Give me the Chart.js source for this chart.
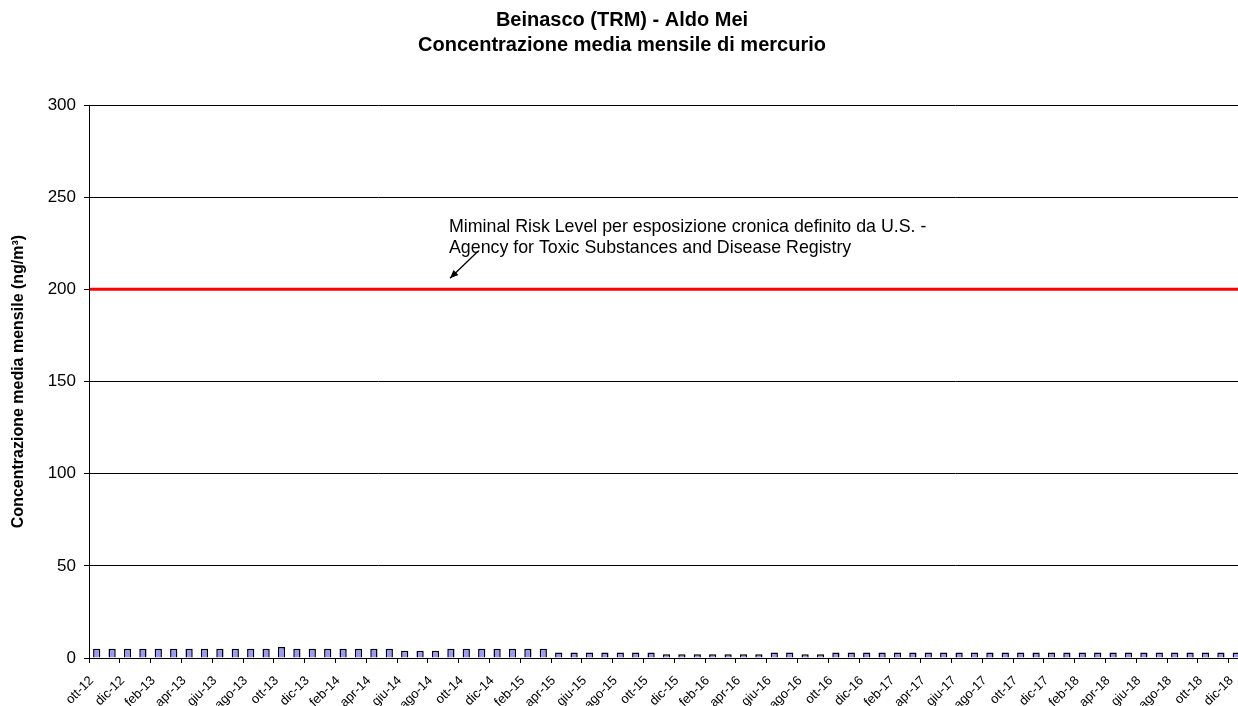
<!DOCTYPE html>
<html>
<head>
<meta charset="utf-8">
<script src="https://cdn.jsdelivr.net/npm/chart.js@4/dist/chart.umd.min.js"></script>
<style>
  html, body { margin: 0; padding: 0; background: #fff; overflow: hidden; }
  #wrap { width: 1250px; height: 706px; }
</style>
</head>
<body>
<div id="wrap"><canvas id="hgChart" width="1250" height="706"></canvas></div>
<script>
  // months ott-12 .. dic-18
  const months = [
    'ott-12', 'nov-12', 'dic-12',
    'gen-13', 'feb-13', 'mar-13', 'apr-13', 'mag-13', 'giu-13', 'lug-13', 'ago-13', 'set-13', 'ott-13', 'nov-13', 'dic-13',
    'gen-14', 'feb-14', 'mar-14', 'apr-14', 'mag-14', 'giu-14', 'lug-14', 'ago-14', 'set-14', 'ott-14', 'nov-14', 'dic-14',
    'gen-15', 'feb-15', 'mar-15', 'apr-15', 'mag-15', 'giu-15', 'lug-15', 'ago-15', 'set-15', 'ott-15', 'nov-15', 'dic-15',
    'gen-16', 'feb-16', 'mar-16', 'apr-16', 'mag-16', 'giu-16', 'lug-16', 'ago-16', 'set-16', 'ott-16', 'nov-16', 'dic-16',
    'gen-17', 'feb-17', 'mar-17', 'apr-17', 'mag-17', 'giu-17', 'lug-17', 'ago-17', 'set-17', 'ott-17', 'nov-17', 'dic-17',
    'gen-18', 'feb-18', 'mar-18', 'apr-18', 'mag-18', 'giu-18', 'lug-18', 'ago-18', 'set-18', 'ott-18', 'nov-18', 'dic-18'
  ];

  // mercurio, ng/m3
  const mercury = [
    5, 5, 5,
    5, 5, 5, 5, 5, 5, 5, 5, 5, 6, 5, 5,
    5, 5, 5, 5, 5, 4, 4, 4, 5, 5, 5, 5,
    5, 5, 5, 3, 3, 3, 3, 3, 3, 3, 2, 2,
    2, 2, 2, 2, 2, 3, 3, 2, 2, 3, 3, 3,
    3, 3, 3, 3, 3, 3, 3, 3, 3, 3, 3, 3,
    3, 3, 3, 3, 3, 3, 3, 3, 3, 3, 3, 3
  ];

  const yTicks = [0, 50, 100, 150, 200, 250, 300];
  const mrlValue = 200;
  const mrlText = [
    'Miminal Risk Level per esposizione cronica definito da U.S. -',
    'Agency for Toxic Substances and Disease Registry'
  ];

  const FONT = '"Liberation Sans", Arial, sans-serif';

  const mrlLine = {
    id: 'mrlLine',
    afterDatasetsDraw(chart) {
      const { ctx, chartArea, scales } = chart;
      const y = scales.y.getPixelForValue(mrlValue);
      ctx.save();
      ctx.strokeStyle = '#ff0000';
      ctx.lineWidth = 3;
      ctx.beginPath();
      ctx.moveTo(chartArea.left + 1, y);
      ctx.lineTo(chartArea.right, y);
      ctx.stroke();

      // label + arrow
      const tx = chartArea.left + 360;
      ctx.fillStyle = '#000';
      ctx.font = '17.8px ' + FONT;
      ctx.textBaseline = 'middle';
      ctx.fillText(mrlText[0], tx, y - 62);
      ctx.fillText(mrlText[1], tx, y - 41);

      const x0 = tx + 29, y0 = y - 38, x1 = tx + 1, y1 = y - 11;
      ctx.strokeStyle = '#000';
      ctx.lineWidth = 1.3;
      ctx.beginPath();
      ctx.moveTo(x0, y0);
      ctx.lineTo(x1, y1);
      ctx.stroke();
      const a = Math.atan2(y1 - y0, x1 - x0);
      ctx.beginPath();
      ctx.moveTo(x1, y1);
      ctx.lineTo(x1 - 9 * Math.cos(a - 0.4), y1 - 9 * Math.sin(a - 0.4));
      ctx.lineTo(x1 - 9 * Math.cos(a + 0.4), y1 - 9 * Math.sin(a + 0.4));
      ctx.closePath();
      ctx.fillStyle = '#000';
      ctx.fill();
      ctx.restore();
    }
  };

  new Chart(document.getElementById('hgChart'), {
    type: 'bar',
    data: {
      labels: months,
      datasets: [{
        data: mercury,
        backgroundColor: '#9999ff',
        borderColor: '#000000',
        borderWidth: 1.5,
        barPercentage: 0.47,
        categoryPercentage: 1
      }]
    },
    options: {
      responsive: false,
      animation: false,
      devicePixelRatio: 1,
      layout: { padding: { left: 0, right: 6, top: 0, bottom: 0 } },
      plugins: {
        legend: { display: false },
        tooltip: { enabled: false },
        title: {
          display: true,
          text: ['Beinasco (TRM) - Aldo Mei', 'Concentrazione media mensile di mercurio'],
          color: '#000',
          font: { family: FONT, size: 20, weight: 'bold', lineHeight: 1.25 },
          padding: { top: 8, bottom: 47 }
        }
      },
      scales: {
        x: {
          offset: true,
          grid: {
            offset: true,
            drawOnChartArea: false,
            drawTicks: true,
            tickLength: 5,
            color: ctx => (ctx.index % 2 === 0 ? '#000' : 'rgba(0,0,0,0)')
          },
          border: { display: true, color: '#000', width: 1 },
          ticks: {
            autoSkip: false,
            maxRotation: 45,
            minRotation: 45,
            padding: 10,
            labelOffset: -5,
            color: '#000',
            font: { family: FONT, size: 13 },
            callback: (v, i) => (i % 2 === 0 ? months[i] : '')
          },
          afterFit: s => { s.height = 48; s.paddingLeft = 0; s.paddingRight = 0; }
        },
        y: {
          min: 0,
          max: 300,
          afterBuildTicks: s => { s.ticks = yTicks.map(v => ({ value: v })); },
          grid: { color: '#000', lineWidth: 1, drawTicks: true, tickLength: 5 },
          border: { display: true, color: '#000', width: 1 },
          ticks: {
            color: '#000',
            padding: 8,
            font: { family: FONT, size: 17 }
          },
          title: {
            display: true,
            text: 'Concentrazione media mensile (ng/m³)',
            color: '#000',
            font: { family: FONT, size: 16, weight: 'bold', lineHeight: 1.2 },
            padding: { top: 9, bottom: 0 }
          },
          afterFit: s => { s.width = 89; }
        }
      }
    },
    plugins: [mrlLine]
  });
</script>
</body>
</html>
